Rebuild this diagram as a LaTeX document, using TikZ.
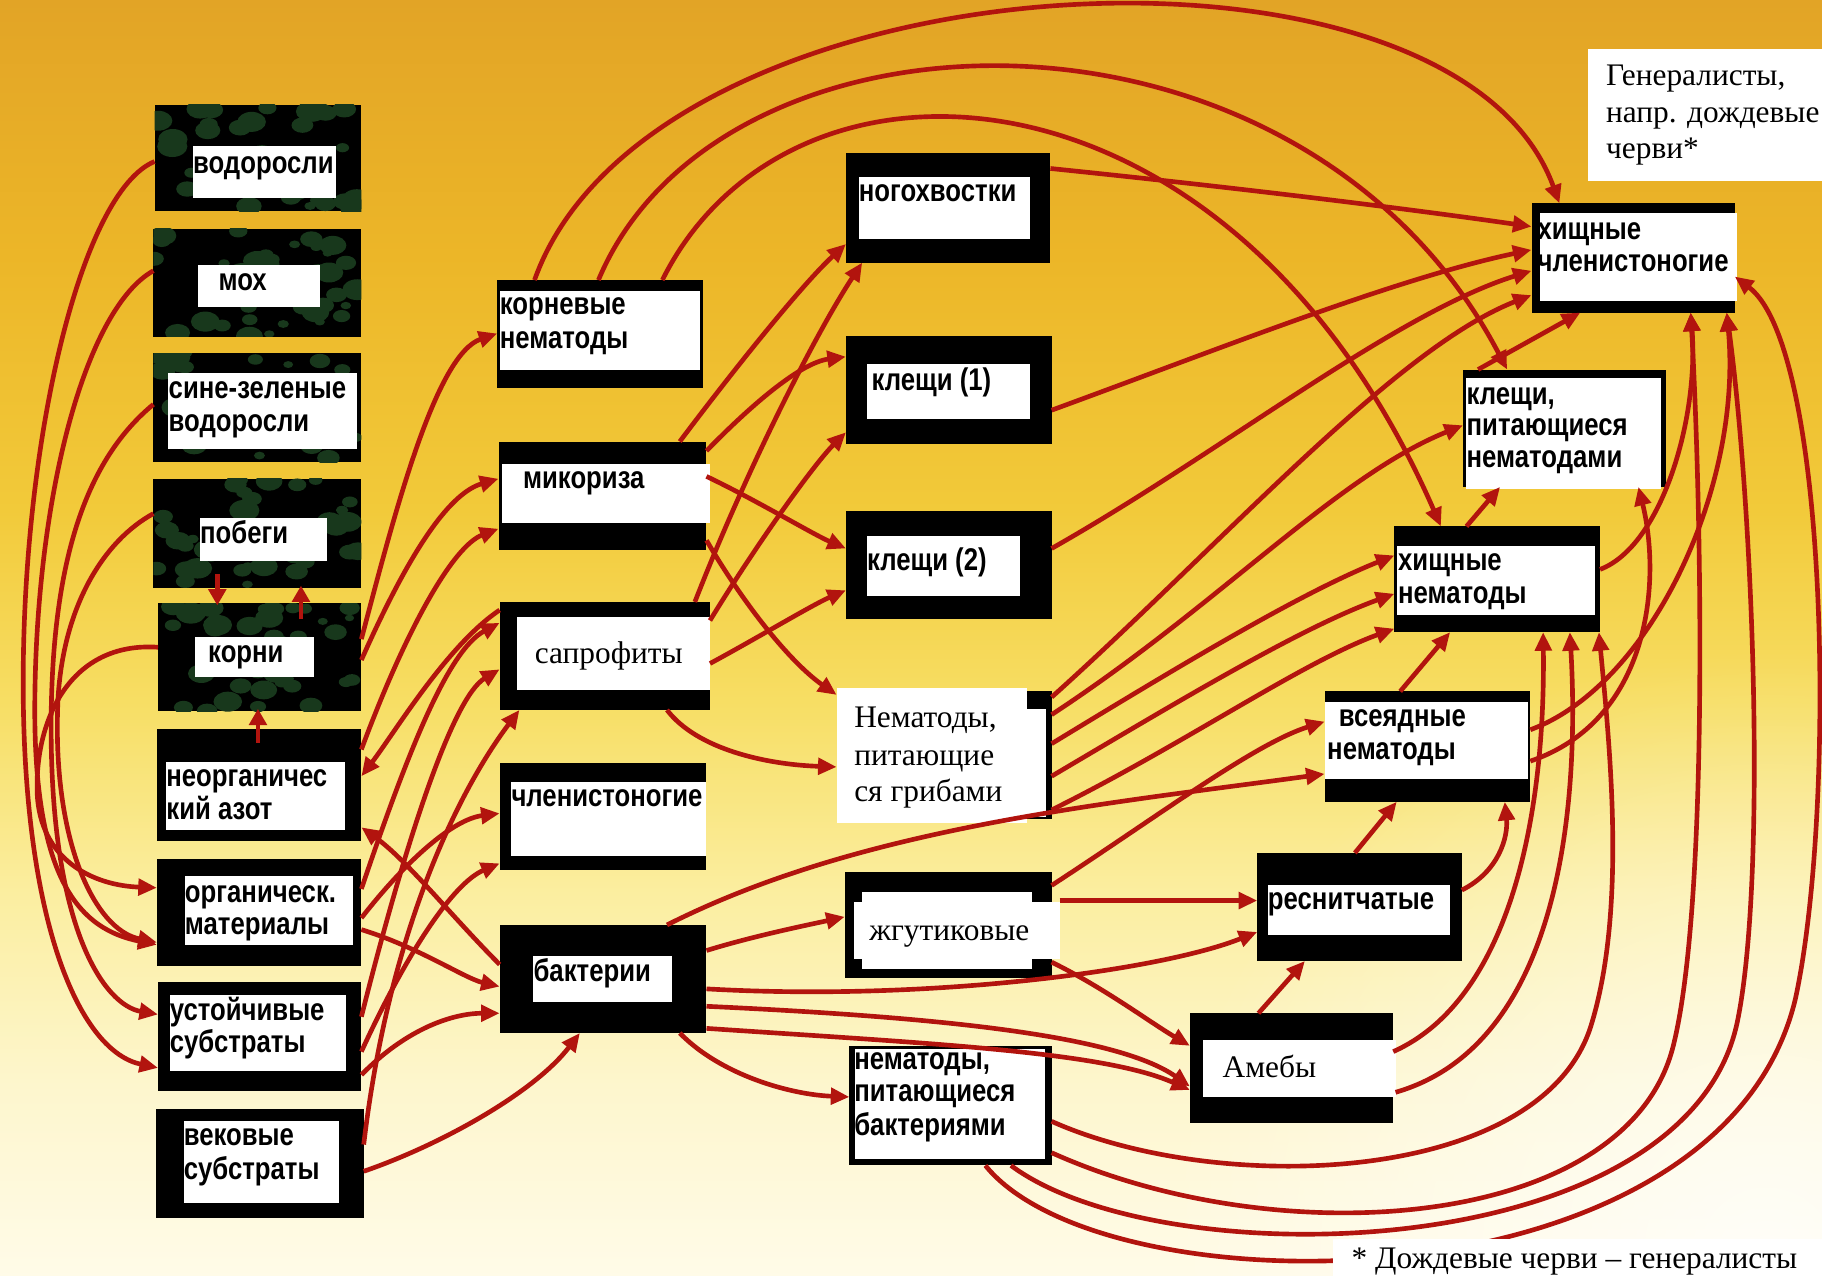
\documentclass[tikz,border=0pt]{standalone}
\usepackage{fontspec}
\newfontfamily\labfont[FakeStretch=0.82]{Liberation Sans}
\newfontfamily\serfont{Liberation Serif}
\usetikzlibrary{arrows.meta,fit,calc,fadings}
\definecolor{arrred}{RGB}{178,20,14}
\definecolor{camog}{RGB}{24,56,28}
\definecolor{bgA}{RGB}{255,251,232}
\definecolor{bgB}{RGB}{253,246,205}
\definecolor{bgC}{RGB}{251,238,160}
\definecolor{bgD}{RGB}{247,222,100}
\definecolor{bgE}{RGB}{242,202,58}
\definecolor{bgF}{RGB}{236,182,40}
\definecolor{bgG}{RGB}{226,164,38}
\pgfdeclareverticalshading{bgshade}{100bp}{color(0bp)=(bgA); color(25bp)=(bgA); color(32.5bp)=(bgB); color(40bp)=(bgC); color(47.5bp)=(bgD); color(55bp)=(bgE); color(65bp)=(bgF); color(75bp)=(bgG); color(100bp)=(bgG)}
\tikzfading[name=radfade, inner color=transparent!0, outer color=transparent!100]
\newcommand\bbox[5]{\node[fit={(#2,#3) (#4,#5)}, inner sep=0pt, outer sep=0pt, fill=black] (#1) {};}
\newcommand\wbox[5]{\node[fit={(#2,#3) (#4,#5)}, inner sep=0pt, outer sep=0pt, fill=white] (#1) {};}
\newcommand\camo[4]{\begin{scope}\clip (#1,#2) rectangle (#3,#4);
 \foreach \k in {1,...,40}{\pgfmathsetmacro\cx{#1+rnd*(#3-#1)}\pgfmathsetmacro\cy{#2+rnd*(#4-#2)}\pgfmathsetmacro\rr{4+rnd*9}\fill[camog] (\cx,\cy) ellipse[x radius=\rr pt, y radius=0.7*\rr pt];}
\end{scope}}
\tikzset{
 lab/.style={font={\labfont\bfseries\fontsize{27}{28}\selectfont}, anchor=base west, inner sep=0pt},
 ser/.style={font={\serfont\fontsize{27}{30}\selectfont}, anchor=base west, inner sep=0pt},
 arr/.style={draw=arrred, line width=4pt, -{Triangle[length=16pt,width=14pt]}},
 sarr/.style={draw=arrred, line width=4pt, -{Triangle[length=14pt,width=15pt]}},
}
\begin{document}
\begin{tikzpicture}[x=1pt,y=-1pt]
\useasboundingbox (0,0) rectangle (1568,1098);
\clip (0,0) rectangle (1568,1098);
\shade[shading=bgshade] (0,0) rectangle (1568,1098);
\fill[white, opacity=0.75, path fading=radfade] (1520,1080) circle[radius=520pt];
\pgfmathsetseed{3}
% ---------- column 1
\bbox{vod}{133}{90}{311}{182}\camo{133}{90}{311}{182}\wbox{vodw}{166}{126}{289}{170}
\node[lab] (tvod) at (166,149) {водоросли};
\bbox{mokh}{132}{197}{311}{290}\camo{132}{197}{311}{290}\wbox{mokhw}{170}{228}{275}{264}
\node[lab] (tmokh) at (188,250) {мох};
\bbox{sine}{132}{304}{311}{398}\camo{132}{304}{311}{398}\wbox{sinew}{145}{321}{307}{386}
\node[lab] (tsine1) at (145,343) {сине-зеленые};
\node[lab] (tsine2) at (145,371) {водоросли};
\bbox{pob}{132}{412}{311}{506}\camo{132}{412}{311}{506}\wbox{pobw}{172}{446}{281}{483}
\node[lab] (tpob) at (172,468) {побеги};
\bbox{kor}{136}{519}{311}{612}\camo{136}{519}{311}{612}\wbox{korw}{168}{548}{270}{583}
\node[lab] (tkor) at (179,570) {корни};
\bbox{azot}{135}{627}{311}{724}\wbox{azotw}{143}{656}{297}{714}
\node[lab] (tazot1) at (143,677) {неорганичес};
\node[lab] (tazot2) at (143,705) {кий азот};
\bbox{org}{135}{739}{311}{831}\wbox{orgw}{159}{754}{304}{813}
\node[lab] (torg1) at (159,777) {органическ.};
\node[lab] (torg2) at (159,804) {материалы};
\bbox{ust}{136}{845}{311}{939}\wbox{ustw}{146}{856}{298}{922}
\node[lab] (tust1) at (146,878) {устойчивые};
\node[lab] (tust2) at (146,906) {субстраты};
\bbox{vek}{134}{954}{313}{1048}\wbox{vekw}{158}{965}{292}{1035}
\node[lab] (tvek1) at (158,986) {вековые};
\node[lab] (tvek2) at (158,1015) {субстраты};
% ---------- column 2
\bbox{knem}{428}{241}{605}{334}\wbox{knemw}{430}{250}{602}{318}
\node[lab] (tknem1) at (430,271) {корневые};
\node[lab] (tknem2) at (430,300) {нематоды};
\bbox{mik}{429}{380}{608}{473}\wbox{mikw}{432}{399}{611}{450}
\node[lab] (tmik) at (450,420) {микориза};
\bbox{sap}{430}{518}{611}{611}\wbox{sapw}{445}{531}{611}{594}
\node[ser] (tsap) at (460,571) {сапрофиты};
\bbox{chl}{430}{657}{608}{749}\wbox{chlw}{440}{673}{608}{737}
\node[lab] (tchl) at (440,694) {членистоногие};
\bbox{bak}{430}{796}{608}{889}\wbox{bakw}{459}{823}{578}{862}
\node[lab] (tbak) at (459,845) {бактерии};
% ---------- column 3
\bbox{nog}{728}{132}{904}{226}\wbox{nogw}{739}{152}{886}{206}
\node[lab] (tnog) at (739,173) {ногохвостки};
\bbox{kl1}{728}{289}{905}{382}\wbox{kl1w}{746}{313}{886}{361}
\node[lab] (tkl1) at (750,336) {клещи (1)};
\bbox{kl2}{728}{440}{905}{533}\wbox{kl2w}{746}{461}{878}{513}
\node[lab] (tkl2) at (746,491) {клещи (2)};
\bbox{ngrb}{727}{595}{905}{705}\wbox{ngrbw}{735}{610}{900}{703}\wbox{ngr}{720}{592}{884}{708}
\node[ser] (tngr1) at (735,626) {Нематоды,};
\node[ser] (tngr2) at (735,659) {питающие};
\node[ser] (tngr3) at (735,690) {ся грибами};
\bbox{zhg}{727}{750}{905}{842}\wbox{zhgi}{742}{768}{888}{834}\wbox{zhgw}{735}{776}{912}{825}
\node[ser] (tzhg) at (748,809) {жгутиковые};
\bbox{nbk}{731}{900}{905}{1003}\wbox{nbkw}{736}{903}{899}{997}
\node[lab] (tnbk1) at (735,920) {нематоды,};
\node[lab] (tnbk2) at (735,948) {питающиеся};
\node[lab] (tnbk3) at (735,977) {бактериями};
% ---------- column 4
\bbox{hchl}{1318}{175}{1493}{269}\wbox{hchlw}{1325}{183}{1495}{259}
\node[lab] (thchl1) at (1323,206) {хищные};
\node[lab] (thchl2) at (1323,234) {членистоногие};
\bbox{klnem}{1259}{318}{1434}{419}\wbox{klnemw}{1262}{325}{1429}{421}
\node[lab] (tklnem1) at (1262,348) {клещи,};
\node[lab] (tklnem2) at (1262,375) {питающиеся};
\node[lab] (tklnem3) at (1262,402) {нематодами};
\bbox{hnem}{1200}{453}{1377}{544}\wbox{hnemw}{1202}{470}{1373}{529}
\node[lab] (thnem1) at (1203,491) {хищные};
\node[lab] (thnem2) at (1203,519) {нематоды};
\bbox{vsy}{1140}{595}{1317}{690}\wbox{vsyw}{1140}{604}{1315}{670}
\node[lab] (tvsy1) at (1152,625) {всеядные};
\node[lab] (tvsy2) at (1142,654) {нематоды};
\bbox{res}{1082}{734}{1258}{827}\wbox{resw}{1091}{762}{1248}{805}
\node[lab] (tres) at (1091,783) {реснитчатые};
\bbox{ame}{1024}{872}{1199}{966}\wbox{amew}{1035}{895}{1201}{944}
\node[ser] (tame) at (1052,927) {Амебы};
% ---------- arrows: plants to organic matter
\draw[arr] (vod.west |- 0,139) .. controls (70,165) and (18,380) .. (20,600) .. controls (22,800) and (70,905) .. (ust.west |- 0,919);
\draw[arr] (mokh.west |- 0,233) .. controls (75,265) and (32,420) .. (30,600) .. controls (28,760) and (70,800) .. (org.west |- 0,813);
\draw[arr] (sine.west |- 0,348) .. controls (75,395) and (45,480) .. (44,620) .. controls (43,800) and (90,865) .. (ust.west |- 0,873);
\draw[arr] (pob.west |- 0,442) .. controls (90,465) and (55,520) .. (50,600) .. controls (44,720) and (80,800) .. (org.west |- 0,811);
\draw[arr] (kor.west |- 0,557) .. controls (60,552) and (30,620) .. (32,682) .. controls (34,740) and (80,762) .. (org.west |- 0,764);
\draw[sarr] ($(pob.south -| 187,0)+(0,-12)$) -- ($(kor.north -| 187,0)+(0,2)$);
\draw[sarr] ($(kor.north -| 259,0)+(0,14)$) -- ($(pob.south -| 259,0)+(0,-2)$);
\draw[sarr] ($(azot.north -| 222,0)+(0,12)$) -- ($(kor.south -| 222,0)+(0,-2)$);
% ---------- column 1 to column 2
\draw[arr] (kor.east |- 0,550) .. controls (340,440) and (375,305) .. (knem.west |- 0,287);
\draw[arr] (kor.east |- 0,568) .. controls (350,480) and (385,425) .. (mik.west |- 0,412);
\draw[arr] (azot.east |- 0,645) .. controls (350,540) and (390,470) .. (mik.west |- 0,455);
\draw[arr] (sap.west |- 0,525) .. controls (385,555) and (340,630) .. (azot.east |- 0,668);
\draw[arr] (org.east |- 0,765) .. controls (350,650) and (385,560) .. (sap.west |- 0,536);
\draw[arr] (ust.east |- 0,875) .. controls (350,720) and (390,600) .. (sap.west |- 0,576);
\draw[arr] (vek.east |- 0,985) .. controls (335,800) and (395,680) .. (sap.south -| 447,0);
\draw[arr] (org.east |- 0,790) .. controls (350,740) and (390,705) .. (chl.west |- 0,700);
\draw[arr] (ust.east |- 0,905) .. controls (350,820) and (390,760) .. (chl.west |- 0,743);
\draw[arr] (org.east |- 0,800) .. controls (360,815) and (400,842) .. (bak.west |- 0,849);
\draw[arr] (ust.east |- 0,925) .. controls (350,885) and (390,872) .. (bak.west |- 0,872);
\draw[arr] (vek.east |- 0,1008) .. controls (380,985) and (460,940) .. (bak.south -| 499,0);
\draw[arr] (bak.west |- 0,830) .. controls (390,790) and (350,740) .. (azot.east |- 0,712);
% ---------- column 2 to column 3
\draw[arr] (mik.north -| 585,0) .. controls (630,320) and (690,245) .. (nog.west |- 0,210);
\draw[arr] (sap.north -| 598,0) .. controls (640,410) and (700,290) .. (nog.south -| 742,0);
\draw[arr] (mik.east |- 0,388) .. controls (650,345) and (690,312) .. (kl1.west |- 0,307);
\draw[arr] (sap.east |- 0,534) .. controls (650,470) and (700,400) .. (kl1.west |- 0,372);
\draw[arr] (mik.east |- 0,410) .. controls (650,430) and (700,460) .. (kl2.west |- 0,472);
\draw[arr] (sap.east |- 0,571) .. controls (650,550) and (700,520) .. (kl2.west |- 0,508);
\draw[arr] (mik.east |- 0,465) .. controls (640,520) and (680,570) .. (ngr.west |- 0,598);
\draw[arr] (sap.south -| 574,0) .. controls (600,645) and (660,658) .. (ngr.west |- 0,660);
% ---------- big arcs from root nematodes
\draw[arr] (knem.north -| 460,0) .. controls (560,-40) and (1250,-80) .. (hchl.north -| 1342,0);
\draw[arr] (knem.north -| 515,0) .. controls (620,-10) and (1120,-20) .. (klnem.north -| 1297,0);
\draw[arr] (knem.north -| 570,0) .. controls (680,20) and (1060,40) .. (hnem.north -| 1240,0);
% ---------- column 3 to column 4
\draw[arr] (nog.east |- 0,145) .. controls (1050,160) and (1200,178) .. (hchl.west |- 0,195);
\draw[arr] (kl1.east |- 0,353) .. controls (1050,300) and (1200,240) .. (hchl.west |- 0,215);
\draw[arr] (kl2.east |- 0,472) .. controls (1050,390) and (1200,270) .. (hchl.west |- 0,233);
\draw[arr] (ngrb.east |- 0,600) .. controls (1050,470) and (1200,300) .. (hchl.west |- 0,254);
\draw[arr] (ngrb.east |- 0,615) .. controls (1050,520) and (1150,410) .. (klnem.west |- 0,366);
\draw[arr] (ngrb.east |- 0,640) .. controls (1020,570) and (1120,510) .. (hnem.west |- 0,478);
\draw[arr] (ngrb.east |- 0,668) .. controls (1020,600) and (1120,540) .. (hnem.west |- 0,511);
\draw[arr] (ngrb.east |- 0,697) .. controls (1020,640) and (1120,570) .. (hnem.west |- 0,541);
\draw[arr] (bak.north -| 574,0) .. controls (740,712) and (950,692) .. (vsy.west |- 0,666);
\draw[arr] (zhg.east |- 0,762) .. controls (1000,700) and (1080,640) .. (vsy.west |- 0,621);
\draw[arr] (bak.east |- 0,818) .. controls (650,805) and (700,795) .. (zhg.west |- 0,789);
\draw[arr] (bak.east |- 0,851) .. controls (800,862) and (1000,835) .. (res.west |- 0,802);
\draw[arr] (bak.east |- 0,866) .. controls (800,875) and (960,890) .. (ame.west |- 0,935);
\draw[arr] (bak.east |- 0,885) .. controls (800,898) and (950,905) .. (ame.west |- 0,938);
\draw[arr] (bak.south -| 585,0) .. controls (620,925) and (680,942) .. (nbk.west |- 0,944);
\draw[arr] (zhgw.east |- 0,775) -- (res.west |- 0,775);
\draw[arr] (zhg.east |- 0,828) .. controls (950,850) and (990,880) .. (ame.west |- 0,900);
% ---------- column 4 internal
\draw[arr] (res.north -| 1166,0) -- (vsy.south -| 1202,0);
\draw[arr] (ame.north -| 1083,0) -- (res.south -| 1123,0);
\draw[arr] (vsy.north -| 1205,0) -- (hnem.south -| 1248,0);
\draw[arr] (hnem.north -| 1262,0) -- (klnem.south -| 1291,0);
\draw[arr] (klnem.north -| 1272,0) -- (hchl.south -| 1360,0);
% ---------- right side curves
\draw[arr] (hnem.east |- 0,490) .. controls (1430,470) and (1462,360) .. (hchl.south -| 1455,0);
\draw[arr] (vsy.east |- 0,628) .. controls (1420,590) and (1500,420) .. (hchl.south -| 1486,0);
\draw[arr] (vsy.east |- 0,655) .. controls (1420,620) and (1430,500) .. (klnem.south -| 1410,0);
\draw[arr] (res.east |- 0,766) .. controls (1290,750) and (1298,720) .. (vsy.south -| 1295,0);
\draw[arr] (ame.east |- 0,905) .. controls (1300,860) and (1330,700) .. (hnem.south -| 1328,0);
\draw[arr] (amew.east |- 0,940) .. controls (1340,900) and (1360,700) .. (hnem.south -| 1351,0);
\draw[arr] (nbk.east |- 0,965) .. controls (1050,1030) and (1330,1020) .. (1370,880) .. controls (1400,780) and (1385,640) .. (hnem.south -| 1376,0);
\draw[arr] (nbk.east |- 0,992) .. controls (1100,1080) and (1400,1060) .. (1440,900) .. controls (1470,780) and (1465,450) .. (hchl.south -| 1455,0);
\draw[arr] (nbk.south -| 870,0) .. controls (1000,1100) and (1450,1090) .. (1495,880) .. controls (1520,760) and (1510,450) .. (hchl.south -| 1486,0);
\draw[arr] (nbk.south -| 848,0) .. controls (950,1130) and (1480,1130) .. (1545,860) .. controls (1580,700) and (1575,300) .. (hchl.east |- 0,238);
% ---------- overlays
\node[fit={(1367,42) (1568,156)}, inner sep=0pt, fill=white] (gen) {};
\node[ser] (tgen1) at (1382,74) {Генералисты,};
\node[ser] (tgen2) at (1382,105) {напр. дождевые};
\node[ser] (tgen3) at (1382,136) {черви*};
\node[fit={(1147,1066) (1575,1110)}, inner sep=0pt, fill=white] (foot) {};
\node[ser] (tfoot) at (1163,1092) {* Дождевые черви – генералисты};
\end{tikzpicture}
\end{document}
